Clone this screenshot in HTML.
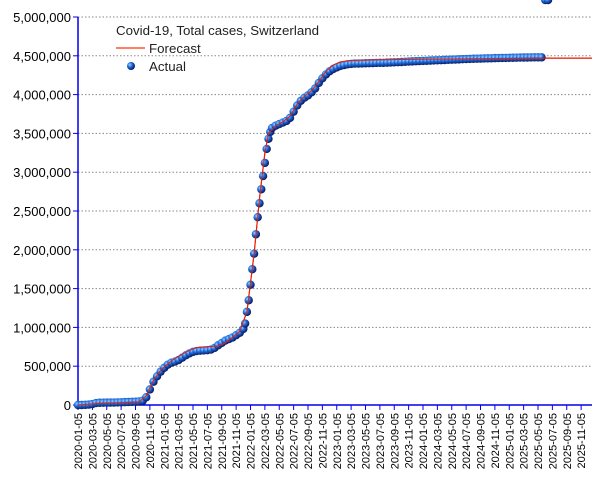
<!DOCTYPE html>
<html><head><meta charset="utf-8"><style>
body{margin:0;background:#fff}
svg{display:block;font-family:"Liberation Sans",sans-serif}
</style></head><body>
<svg id="chart" width="605" height="480" xmlns="http://www.w3.org/2000/svg">
<defs>
<radialGradient id="ball" cx="35%" cy="35%" r="65%">
<stop offset="0" stop-color="#9fd0ff"/><stop offset="0.45" stop-color="#1f6fe0"/><stop offset="1" stop-color="#0a1a60"/>
</radialGradient>
</defs>
<g id="grid"></g>
<g id="yticks"></g>
<g id="xticks"></g>
<path id="fc" fill="none" stroke="#e8200a" stroke-width="1.2"/>
<g id="pts"></g>
<path id="fc2" fill="none" stroke="#e8200a" stroke-width="1"/>
<g>
<text x="116" y="35" font-size="13.3" fill="#222">Covid-19, Total cases, Switzerland</text>
<line x1="116" y1="48" x2="145" y2="48" stroke="#ff3300" stroke-width="1.2"/>
<text x="149" y="53" font-size="13.3" fill="#222">Forecast</text>
<circle cx="131" cy="66" r="4" fill="url(#ball)"/>
<text x="149" y="71" font-size="13.3" fill="#222">Actual</text>
</g>
</svg>
<script>
// months since 2020-01-05
const actualMonths=[0,0.5,1,1.5,2,2.5,3,3.5,4,4.5,5,5.5,6,6.5,7,7.5,8,8.5,9,9.5,10,10.5,11,11.5,12,12.5,13,13.5,14,14.5,15,15.5,16,16.5,17,17.5,18,18.5,19,19.5,20,20.5,21,21.5,22,22.5,23,23.25,23.5,23.75,24,24.25,24.5,24.75,25,25.25,25.5,25.75,26,26.25,26.5,26.75,27,27.5,28,28.5,29,29.5,30,30.5,31,31.5,32,32.5,33,33.5,34,34.5,35,35.5,36,36.5,37,37.5,38,38.5,39,39.5,40,40.5,41,41.5,42,42.5,43,43.5,44,44.5,45,45.5,46,46.5,47,47.5,48,48.5,49,49.5,50,50.5,51,51.5,52,52.5,53,53.5,54,54.5,55,55.5,56,56.5,57,57.5,58,58.5,59,59.5,60,60.5,61,61.5,62,62.5,63,63.5,64,64.5,65,65.4];
const actualValues=[0,0,0.002,0.005,0.012,0.025,0.029,0.03,0.031,0.031,0.032,0.033,0.035,0.037,0.039,0.041,0.043,0.046,0.055,0.1,0.2,0.3,0.37,0.43,0.48,0.52,0.545,0.56,0.58,0.61,0.64,0.665,0.685,0.695,0.7,0.703,0.706,0.715,0.735,0.77,0.8,0.83,0.85,0.87,0.9,0.93,0.98,1.05,1.2,1.35,1.55,1.75,1.95,2.2,2.42,2.6,2.78,2.95,3.12,3.3,3.43,3.52,3.57,3.6,3.62,3.64,3.66,3.7,3.78,3.86,3.92,3.96,3.99,4.03,4.08,4.15,4.21,4.26,4.3,4.33,4.35,4.37,4.38,4.39,4.395,4.4,4.4,4.402,4.404,4.405,4.406,4.408,4.41,4.41,4.412,4.414,4.416,4.418,4.42,4.423,4.426,4.428,4.43,4.432,4.434,4.436,4.438,4.44,4.442,4.444,4.446,4.448,4.45,4.452,4.454,4.456,4.458,4.46,4.462,4.463,4.464,4.466,4.467,4.468,4.47,4.471,4.472,4.473,4.474,4.475,4.476,4.477,4.478,4.478,4.479,4.48,4.48,4.48];
const forecastMonths=[0,3,6,8.5,9.5,10.5,11.5,12.5,13.5,15,16.5,18,19.5,20.5,21.5,22.5,23.5,24.5,25.3,26,26.5,27.5,28.5,29.5,30.5,31.5,32.5,33.5,34.5,35.5,36.5,38,42,48,54,60,65,71.5];
const forecastValues=[0,0.02,0.03,0.04,0.12,0.32,0.45,0.53,0.6,0.68,0.74,0.75,0.76,0.8,0.87,0.95,1.2,1.95,2.7,3.25,3.5,3.6,3.65,3.72,3.88,3.98,4.05,4.17,4.3,4.38,4.42,4.44,4.45,4.455,4.46,4.465,4.47,4.47];
const yTicks=[0,500000,1000000,1500000,2000000,2500000,3000000,3500000,4000000,4500000,5000000];
const xTickLabels=["2020-01-05","2020-03-05","2020-05-05","2020-07-05","2020-09-05","2020-11-05","2021-01-05","2021-03-05","2021-05-05","2021-07-05","2021-09-05","2021-11-05","2022-01-05","2022-03-05","2022-05-05","2022-07-05","2022-09-05","2022-11-05","2023-01-05","2023-03-05","2023-05-05","2023-07-05","2023-09-05","2023-11-05","2024-01-05","2024-03-05","2024-05-05","2024-07-05","2024-09-05","2024-11-05","2025-01-05","2025-03-05","2025-05-05","2025-07-05","2025-09-05","2025-11-05"];

const NS="http://www.w3.org/2000/svg";
const X0=78,PX_PER_MONTH=7.1875,Y0=405,Ytop=17,XR=592;
const xs=m=>X0+m*PX_PER_MONTH;
const ys=v=>Y0-(v/5000000)*(Y0-Ytop);
function mk(tag,attrs,parent){const e=document.createElementNS(NS,tag);for(const k in attrs)e.setAttribute(k,attrs[k]);parent.appendChild(e);return e;}
const grid=document.getElementById('grid'),yg=document.getElementById('yticks'),xg=document.getElementById('xticks');
yTicks.forEach(v=>{const y=ys(v);
 if(v>0){const g=mk('line',{x1:X0,x2:XR,y1:y,y2:y,stroke:'#888','stroke-dasharray':'1.5,2'},grid);
 
 }
 const t=mk('line',{x1:X0-5,x2:X0,y1:y,y2:y,stroke:'#0000ee'},yg);
 
 
 const l=mk('text',{x:X0-7,y:y+5,'text-anchor':'end','font-size':'13',fill:'#000'},yg);
 
 
 l.textContent=v.toLocaleString('en-US');
});
const ya=mk('line',{x1:X0,x2:X0,y1:Ytop,y2:Y0,stroke:'#0000ee','stroke-width':1.5},yg);


const xa=mk('line',{x1:X0,x2:XR,y1:Y0,y2:Y0,stroke:'#0000ee','stroke-width':1.5},xg);


xTickLabels.forEach((s,i)=>{const x=xs(i*2);
 const t=mk('line',{x1:x,x2:x,y1:Y0,y2:Y0+5,stroke:'#0000ee'},xg);
 
 
 const l=mk('text',{x:0,y:0,'text-anchor':'end','font-size':'11',fill:'#000',transform:`translate(${x+4},${Y0+8}) rotate(-90)`},xg);
 
 
 l.textContent=s;
});
const d=forecastMonths.map((m,i)=>(i?'L':'M')+xs(m).toFixed(1)+','+ys(forecastValues[i]*1e6).toFixed(1)).join(' ');
document.getElementById('fc').setAttribute('d',d);
document.getElementById('fc2').setAttribute('d',d);
const pts=document.getElementById('pts');
actualMonths.forEach((m,i)=>{
 const c=mk('circle',{cx:xs(m),cy:ys(actualValues[i]*1e6),r:4.2,fill:'url(#ball)'},pts);
 
 
});
</script>
</body></html>
